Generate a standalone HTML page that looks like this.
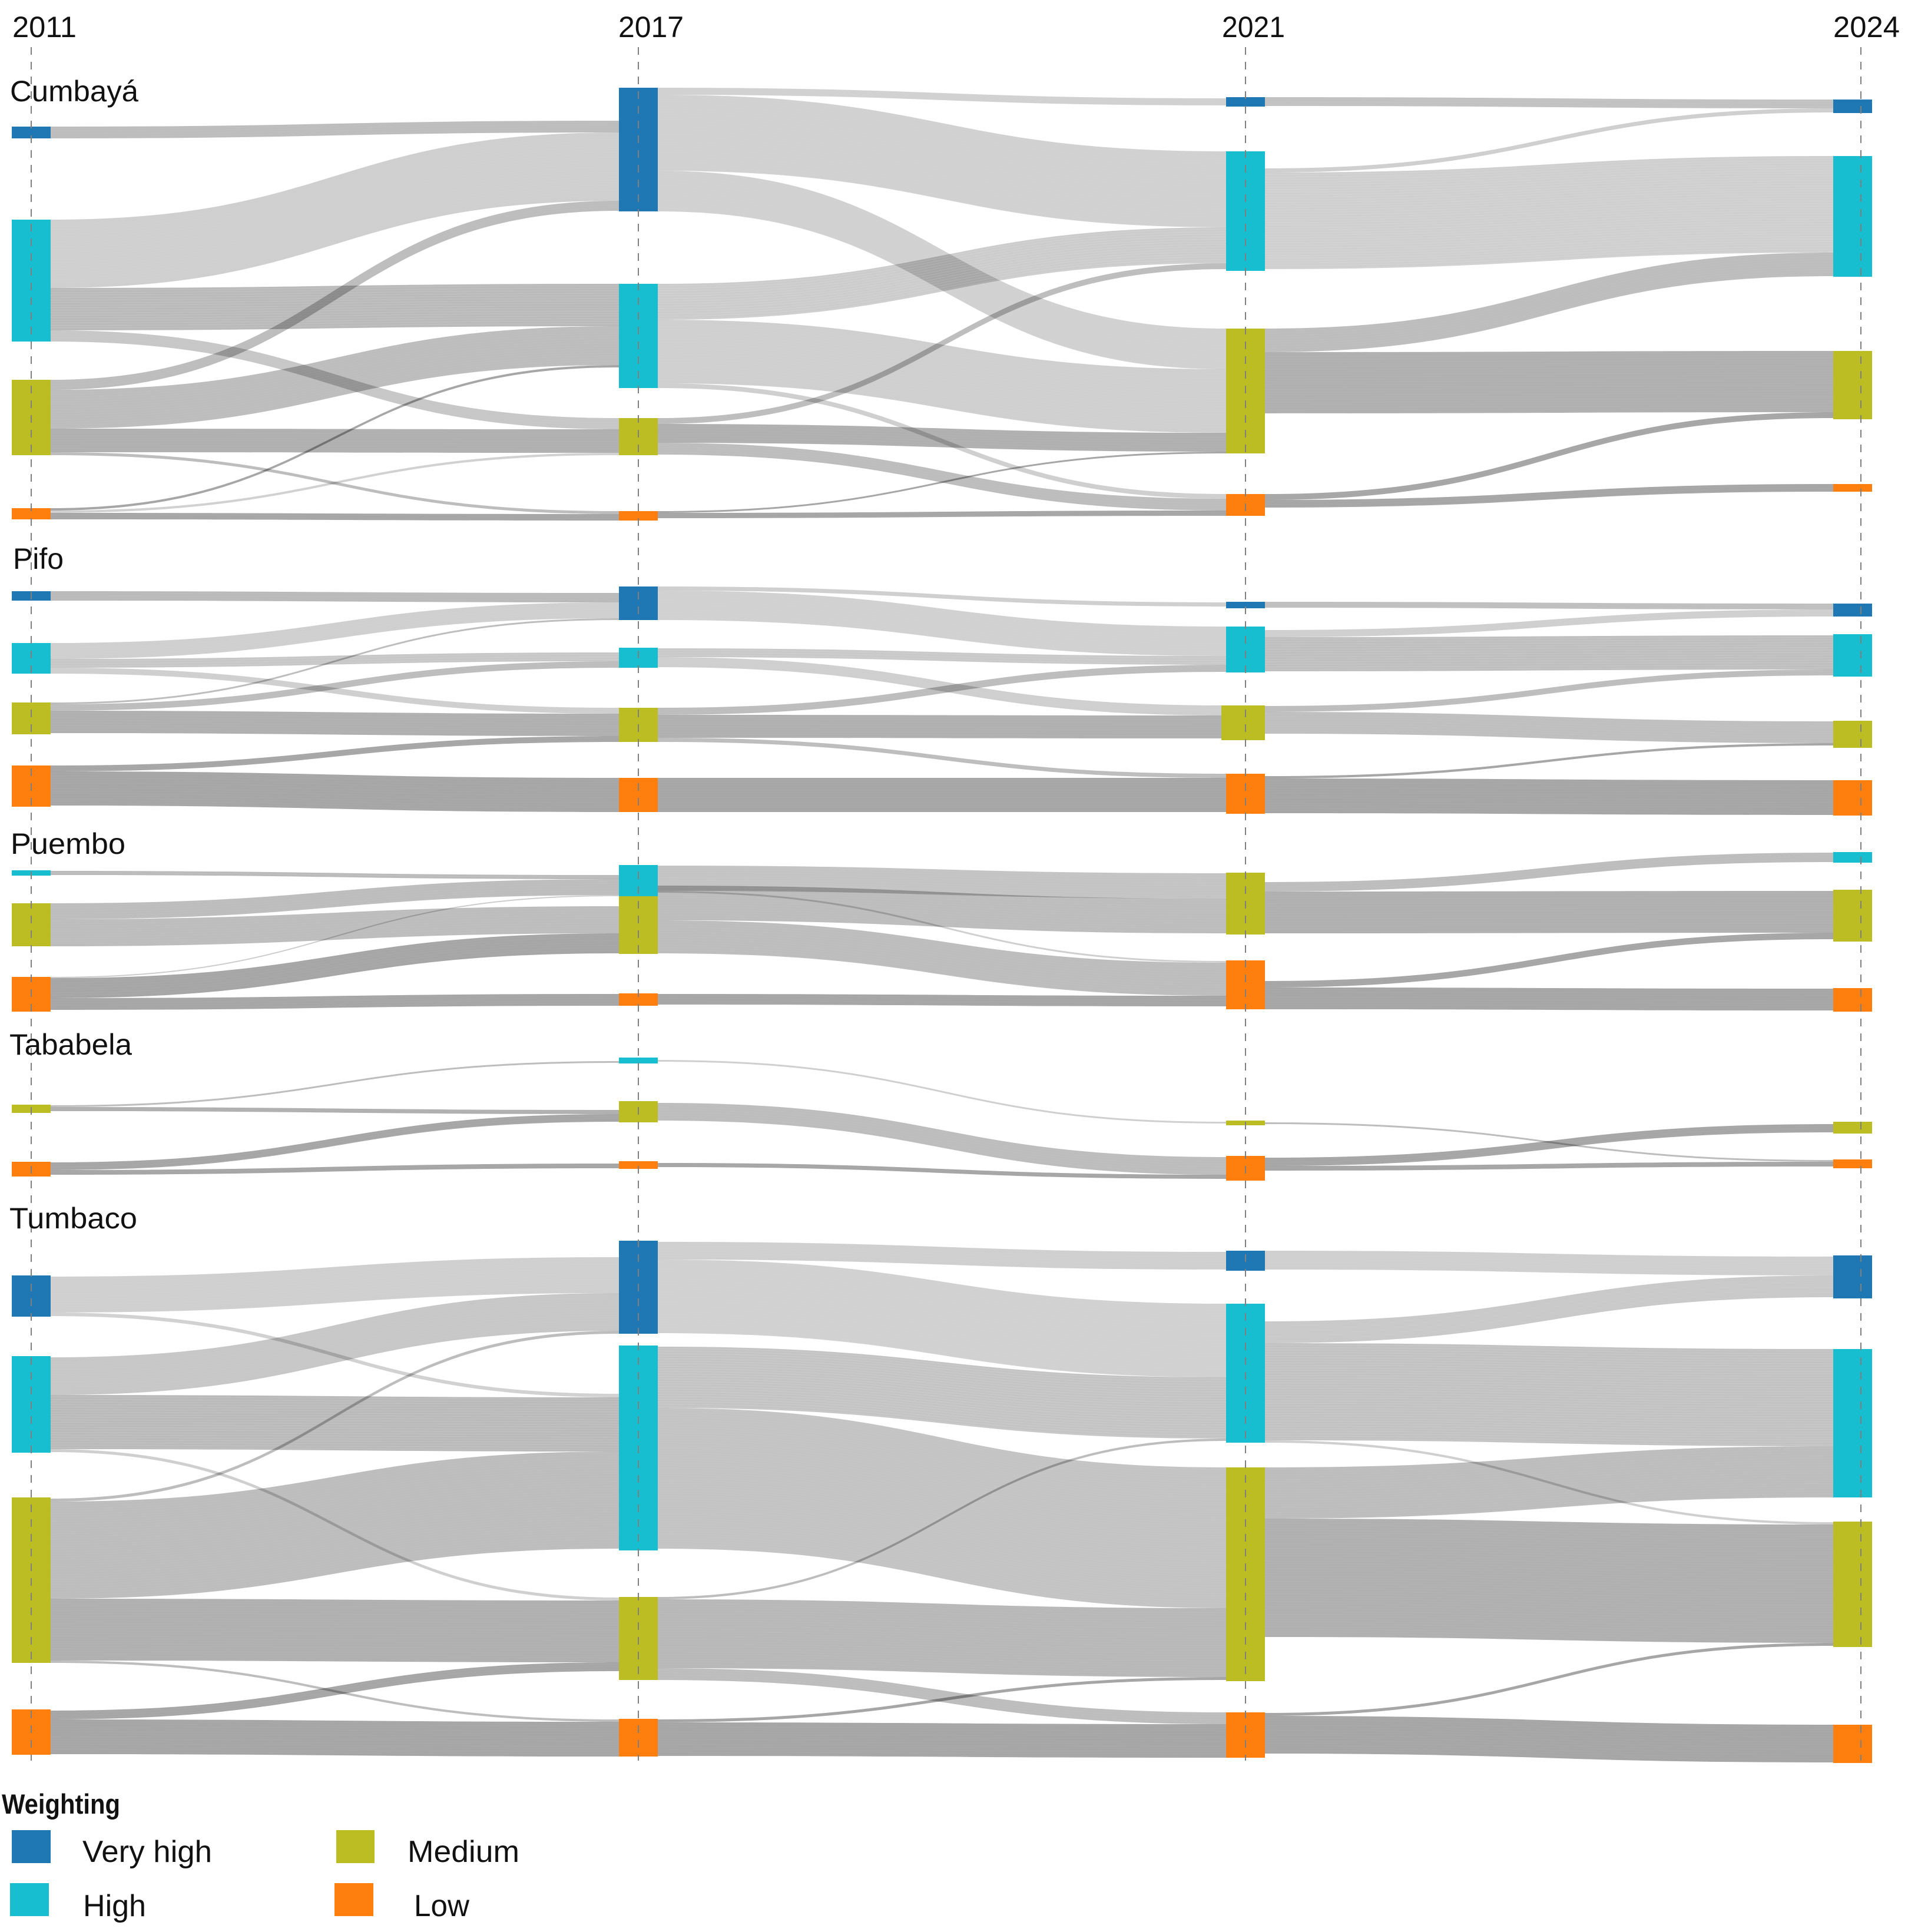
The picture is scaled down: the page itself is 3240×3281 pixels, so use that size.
<!DOCTYPE html>
<html lang="en">
<head>
<meta charset="utf-8">
<title>Weighting transitions by parish, 2011–2024</title>
<style>
  html, body { margin: 0; padding: 0; background: #fff; }
  svg { display: block; }
  text { font-family: "Liberation Sans", sans-serif; fill: #111; }
</style>
</head>
<body>
<svg id="chart" xmlns="http://www.w3.org/2000/svg" width="3240" height="3281" viewBox="0 0 3240 3281">
  <rect x="0" y="0" width="3240" height="3281" fill="#ffffff"/>
  <g id="flows"></g>
  <g id="nodes"></g>
  <g id="guides"></g>
  <g id="labels"></g>
  <g>
    <text x="3" y="3080" font-size="47" font-weight="bold" textLength="201" lengthAdjust="spacingAndGlyphs">Weighting</text>
    <rect x="20" y="3108" width="66" height="56" fill="#1f77b4"/>
    <text x="140" y="3162" font-size="52" textLength="220" lengthAdjust="spacingAndGlyphs">Very high</text>
    <rect x="17" y="3198" width="66" height="56" fill="#17becf"/>
    <text x="141" y="3254" font-size="52" textLength="107" lengthAdjust="spacingAndGlyphs">High</text>
    <rect x="571" y="3108" width="65" height="56" fill="#bcbd22"/>
    <text x="692" y="3162" font-size="52" textLength="190" lengthAdjust="spacingAndGlyphs">Medium</text>
    <rect x="568" y="3198" width="66" height="56" fill="#ff7f0e"/>
    <text x="703" y="3254" font-size="52" textLength="94" lengthAdjust="spacingAndGlyphs">Low</text>
  </g>
</svg>
<script>
/* ---------- data: categories, axis labels, flow matrices (rows = from, cols = to: very high, high, medium, low) ---------- */
const categories = ['very-high', 'high', 'medium', 'low'];
const years = ['2011', '2017', '2021', '2024'];
const regionNames = ['Cumbayá', 'Pifo', 'Puembo', 'Tababela', 'Tumbaco'];

const cumbaya2011to2017 = [[20,0,0,0],[116,72,19,0],[17,66,40,5],[0,4,4,11]];
const cumbaya2017to2021 = [[12,129,69,0],[0,61,108,8],[0,10,32,20],[0,0,3,9]];
const cumbaya2021to2024 = [[15,0,0,0],[7,164,0,0],[0,40,104,0],[0,0,10,13]];

const pifo2011to2017 = [[16,0,0,0],[27,15,10,0],[3,11,38,0],[0,0,10,58]];
const pifo2017to2021 = [[7,50,0,0],[0,15,17,0],[0,12,39,7],[0,0,0,58]];
const pifo2021to2024 = [[10,0,0,0],[12,58,0,0],[0,10,37,0],[0,0,4,59]];

const puembo2011to2017 = [[0,0,0,0],[0,7,0,0],[0,27,46,0],[0,2,34,20]];
const puembo2017to2021 = [[0,0,0,0],[0,0,43,3],[0,0,59,56],[0,0,0,18]];
const puembo2021to2024 = [[0,0,0,0],[0,0,0,0],[0,16,71,0],[0,0,11,37]];

const tababela2011to2017 = [[0,0,0,0],[0,0,0,0],[0,3,7,0],[0,0,13,8]];
const tababela2017to2021 = [[0,0,0,0],[0,0,3,0],[0,0,0,30],[0,0,0,7]];
const tababela2021to2024 = [[0,0,0,0],[0,0,0,0],[0,0,0,3],[0,0,14,8]];

const tumbaco2011to2017 = [[61,6,0,0],[64,92,5,0],[5,165,105,4],[0,0,15,59]];
const tumbaco2017to2021 = [[30,125,0,0],[0,104,239,0],[0,4,117,20],[0,0,5,57]];
const tumbaco2021to2024 = [[32,0,0,0],[37,165,4,0],[0,87,201,0],[0,0,5,64]];

const regionFlows = [
  [cumbaya2011to2017, cumbaya2017to2021, cumbaya2021to2024],
  [pifo2011to2017, pifo2017to2021, pifo2021to2024],
  [puembo2011to2017, puembo2017to2021, puembo2021to2024],
  [tababela2011to2017, tababela2017to2021, tababela2021to2024],
  [tumbaco2011to2017, tumbaco2017to2021, tumbaco2021to2024]
];

/* ---------- layout: spacing between stacked nodes, kept apart from the data ---------- */
const regionBase = [0, 940, 1400, 1740, 2040];
const columnGaps = [
  [[215,138,65,90],[149,123,51,95],[165,76,98,69],[169,73,126,110]],
  [[64,72,49,53],[56,47,68,61],[82,31,56,57],[85,30,75,55]],
  [[0,78,47,52],[0,69,0,67],[0,0,82,44],[0,47,46,79]],
  [[0,0,136,83],[0,56,64,66],[0,0,163,52],[0,0,165,44]],
  [[126,67,76,79],[67,20,79,66],[84,56,42,53],[92,86,41,132]]
];
/* region-column-category: [inflow inset, outflow inset, extra node padding] */
const nodeNudges = {
  '0-1-0':[56,0,0], '0-2-0':[2,0,1], '0-2-1':[0,29,3], '0-3-0':[0,0,1], '0-3-1':[0,0,1], '0-3-2':[0,0,2],
  '1-0-2':[0,0,2], '1-0-3':[0,0,2], '1-1-0':[11,0,0], '1-1-1':[8,1,0], '1-2-0':[1,0,1], '1-2-1':[0,6,1], '1-2-2':[0,1,3], '1-2-3':[0,4,1], '1-3-1':[2,0,2], '1-3-2':[1,0,4], '1-3-3':[0,0,1],
  '2-0-1':[0,1,1], '2-0-3':[0,0,3], '2-1-1':[17,1,0], '2-1-2':[17,-18,1], '2-1-3':[1,1,0], '2-2-2':[1,16,2], '2-2-3':[1,35,0], '2-3-1':[1,0,1], '2-3-2':[2,0,4], '2-3-3':[1,0,2],
  '3-0-2':[0,1,3], '3-0-3':[0,1,3], '3-1-1':[6,4,1], '3-1-2':[15,3,1], '3-1-3':[4,3,1], '3-2-2':[2,3,2], '3-2-3':[2,3,3], '3-3-2':[4,0,2], '3-3-3':[1,0,3],
  '4-0-0':[0,2,1], '4-0-1':[0,2,1], '4-0-2':[0,2,0], '4-0-3':[0,2,1], '4-1-0':[28,2,0], '4-1-1':[82,2,3], '4-1-2':[1,0,0], '4-1-3':[1,1,0], '4-2-0':[2,0,2], '4-2-1':[0,30,0], '4-2-2':[0,0,2], '4-2-3':[0,1,0], '4-3-0':[2,0,2], '4-3-2':[1,0,2], '4-3-3':[0,0,1]
};
const nodeLeftExtend = { '1-2-2': 8 };
const categoryColors = ['#1f77b4', '#17becf', '#bcbd22', '#ff7f0e'];

/* ribbon tone: default by source category, with per-ribbon adjustments keyed region-period-from-to */
const flowAlpha = [0.18, 0.19, 0.26, 0.35];
const selfFlowAlpha = [0.19, 0.27, 0.31, 0.35];
const flowAlphaOverrides = {
  '0-0-0-0':0.26, '0-2-0-0':0.24, '0-1-0-0':0.18, '0-1-1-1':0.2, '0-2-1-1':0.19, '0-0-1-2':0.22, '0-0-3-2':0.18, '0-1-2-1':0.26,
  '1-0-0-0':0.27, '1-2-0-0':0.25, '1-0-1-1':0.22, '1-1-1-1':0.21, '1-2-1-1':0.25, '1-2-2-2':0.25,
  '2-0-2-2':0.26, '2-1-2-2':0.26, '2-1-1-2':0.23, '2-0-3-1':0.2,
  '4-0-1-0':0.22, '4-1-1-1':0.23, '4-1-1-2':0.23, '4-1-2-2':0.28, '4-2-1-1':0.24, '4-2-1-0':0.21
};

/* ---------- axis functions ---------- */
const NODE_WIDTH = 66;
const xNode = col => 20 + col * 1031;
const xGuide = col => col === 3 ? 3160 : 53 + col * 1031;
const yThickness = value => value * 1;

const SVG_NS = 'http://www.w3.org/2000/svg';
const flowLayer = document.getElementById('flows');
const nodeLayer = document.getElementById('nodes');
const guideLayer = document.getElementById('guides');
const labelLayer = document.getElementById('labels');
const make = tag => document.createElementNS(SVG_NS, tag);
const sum = list => list.reduce((a, b) => a + b, 0);

function inflow(flows, col, cat) {
  return col === 0 ? [0,0,0,0] : flows[col - 1].map(row => row[cat]);
}
function outflow(flows, col, cat) {
  return col === years.length - 1 ? [0,0,0,0] : flows[col][cat];
}

function ribbonPath(x0, x1, y0, y1, t) {
  const xm = (x0 + x1) / 2;
  return 'M' + x0 + ',' + y0 + 'C' + xm + ',' + y0 + ' ' + xm + ',' + y1 + ' ' + x1 + ',' + y1 +
    'L' + x1 + ',' + (y1 + t) + 'C' + xm + ',' + (y1 + t) + ' ' + xm + ',' + (y0 + t) + ' ' + x0 + ',' + (y0 + t) + 'Z';
}
function strandPath(x0, x1, y0, y1, t) {
  const xm = (x0 + x1) / 2;
  let d = '';
  for (let o = 3.3; o < t - 1; o += 4.3) {
    d += 'M' + x0 + ',' + (y0 + o) + 'C' + xm + ',' + (y0 + o) + ' ' + xm + ',' + (y1 + o) + ' ' + x1 + ',' + (y1 + o);
  }
  return d;
}

regionFlows.forEach((flows, r) => {
  const slug = regionNames[r].toLowerCase().normalize('NFD').replace(/[\u0300-\u036f]/g, '');
  const tops = [];
  const inStart = [];
  const outStart = [];

  years.forEach((year, col) => {
    let cursor = regionBase[r];
    tops[col] = [];
    inStart[col] = [];
    outStart[col] = [];
    categories.forEach((cat, k) => {
      const key = r + '-' + col + '-' + k;
      const nudge = nodeNudges[key] || [0, 0, 0];
      const inSum = yThickness(sum(inflow(flows, col, k)));
      const outSum = yThickness(sum(outflow(flows, col, k)));
      const hasIn = inSum > 0;
      const hasOut = outSum > 0;
      const h = Math.max(hasIn ? nudge[0] + inSum : 0, hasOut ? nudge[1] + outSum : 0) + ((hasIn || hasOut) ? nudge[2] : 0);
      const top = cursor + columnGaps[r][col][k];
      tops[col][k] = top;
      inStart[col][k] = top + nudge[0];
      outStart[col][k] = top + nudge[1];
      cursor = top + h;
      if (h > 0) {
        const extend = nodeLeftExtend[key] || 0;
        const node = make('rect');
        
        
        node.setAttribute('x', xNode(col) - extend);
        node.setAttribute('y', top);
        node.setAttribute('width', NODE_WIDTH + extend);
        node.setAttribute('height', h);
        node.setAttribute('fill', categoryColors[k]);
        nodeLayer.appendChild(node);
      }
    });
  });

  flows.forEach((matrix, col) => {
    const outCursor = outStart[col].slice();
    const inCursor = inStart[col + 1].slice();
    const x0 = xNode(col) + NODE_WIDTH;
    const x1 = xNode(col + 1);
    matrix.forEach((row, from) => {
      row.forEach((value, to) => {
        if (value <= 0) return;
        const t = yThickness(value);
        const y0 = outCursor[from];
        const y1 = inCursor[to];
        outCursor[from] += t;
        inCursor[to] += t;
        const self = from === to;
        const override = flowAlphaOverrides[r + '-' + col + '-' + from + '-' + to];
        const alpha = override !== undefined ? override : (self ? selfFlowAlpha[from] : flowAlpha[from]);

        const ribbon = make('path');
        
        
        ribbon.setAttribute('d', ribbonPath(x0, x1, y0, y1, t));
        ribbon.setAttribute('fill', '#000000');
        ribbon.setAttribute('fill-opacity', alpha);
        flowLayer.appendChild(ribbon);

        if (t >= 6) {
          const strands = make('path');
          
          
          strands.setAttribute('d', strandPath(x0, x1, y0, y1, t));
          strands.setAttribute('fill', 'none');
          strands.setAttribute('stroke', '#ffffff');
          strands.setAttribute('stroke-width', '1');
          strands.setAttribute('stroke-opacity', self && from === 1 ? 0.14 : 0.05);
          flowLayer.appendChild(strands);
        }
      });
    });
  });
});

const yearLabelX = [21, 1050, 2075, 3113];
const yearLabelWidth = [109, 111, 107, 113];
years.forEach((year, col) => {
  const guide = make('line');
  
  
  guide.setAttribute('x1', xGuide(col));
  guide.setAttribute('x2', xGuide(col));
  guide.setAttribute('y1', 80);
  guide.setAttribute('y2', 2990);
  guide.setAttribute('stroke', '#7f7f7f');
  guide.setAttribute('stroke-width', '2');
  guide.setAttribute('stroke-dasharray', '13 12');
  guideLayer.appendChild(guide);

  const label = make('text');
  
  
  label.setAttribute('x', yearLabelX[col]);
  label.setAttribute('y', 63);
  label.setAttribute('font-size', '50');
  label.setAttribute('textLength', yearLabelWidth[col]);
  label.setAttribute('lengthAdjust', 'spacingAndGlyphs');
  label.textContent = year;
  labelLayer.appendChild(label);
});

const regionLabelX = [17, 22, 18, 16, 16];
const regionLabelY = [172, 966, 1450, 1791, 2086];
const regionLabelWidth = [218, 86, 195, 208, 217];
regionNames.forEach((name, r) => {
  const label = make('text');
  
  
  label.setAttribute('x', regionLabelX[r]);
  label.setAttribute('y', regionLabelY[r]);
  label.setAttribute('font-size', '50');
  label.setAttribute('textLength', regionLabelWidth[r]);
  label.setAttribute('lengthAdjust', 'spacingAndGlyphs');
  label.textContent = name;
  labelLayer.appendChild(label);
});
</script>
</body>
</html>
